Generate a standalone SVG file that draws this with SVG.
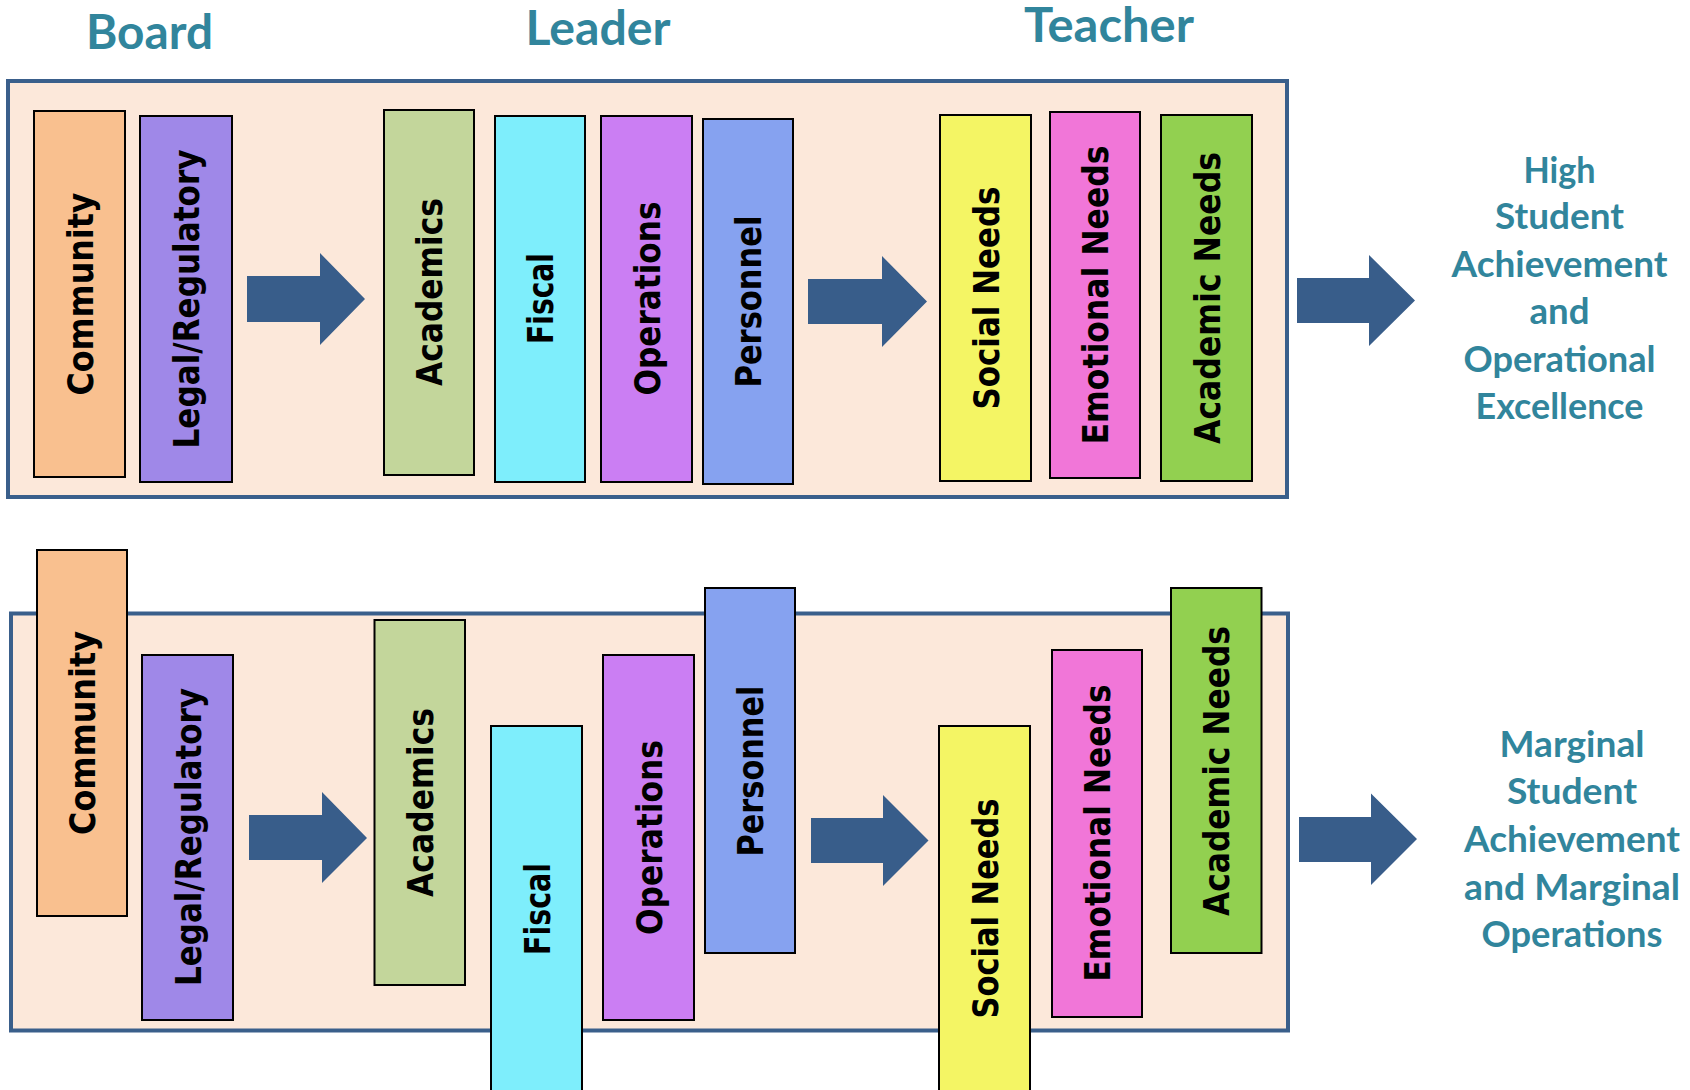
<svg xmlns="http://www.w3.org/2000/svg" width="1690" height="1090" viewBox="0 0 1690 1090">
<style>
.panel{fill:#FCE8DA;stroke:#3A5F8B;stroke-width:4}
.box{stroke:#000;stroke-width:2}
.lbl{font-family:"DejaVu Sans",Verdana,sans-serif;font-weight:bold;font-size:35px;fill:#000;text-anchor:middle}
.hdr{font-family:Lato,"Open Sans",sans-serif;font-weight:bold;font-size:47px;fill:#31859C;text-anchor:middle}
.out{font-family:Lato,"Open Sans",sans-serif;font-weight:bold;font-size:36px;fill:#31859C;text-anchor:middle}
.arr{fill:#385D8A}
.c1{fill:#F9C08F}.c2{fill:#9F88E8}.c3{fill:#C3D69B}.c4{fill:#7EEEFC}.c5{fill:#CB7EF3}.c6{fill:#86A2F0}.c7{fill:#F4F564}.c8{fill:#F176D8}.c9{fill:#92D050}
</style>
<rect width="1690" height="1090" fill="#fff"/>
<g id="headers">
<text class="hdr" x="149.5" y="48.5" textLength="127" lengthAdjust="spacingAndGlyphs">Board</text>
<text class="hdr" x="598" y="44.5" textLength="145" lengthAdjust="spacingAndGlyphs">Leader</text>
<text class="hdr" x="1109" y="42" textLength="170" lengthAdjust="spacingAndGlyphs">Teacher</text>
</g>
<g id="panel-top"><rect class="panel" x="8" y="81" width="1279" height="416"/></g>
<g id="panel-bottom"><rect class="panel" x="11" y="613.5" width="1277" height="417"/></g>
<g id="connectors">
<path class="arr" d="M247,276 H320 V253 L365,299 L320,345 V322 H247 Z"/>
<path class="arr" d="M808,279 H882 V256 L927,301.5 L882,347 V324 H808 Z"/>
<path class="arr" d="M1297,278 H1369 V255 L1415,300.5 L1369,346 V323 H1297 Z"/>
<path class="arr" d="M249,815 H322 V792 L367,838 L322,883 V860 H249 Z"/>
<path class="arr" d="M811,818 H883 V795 L928.5,840.5 L883,886 V863 H811 Z"/>
<path class="arr" d="M1299,817 H1371 V793.5 L1417,839 L1371,885 V862 H1299 Z"/>
</g>
<g id="top-community"><rect class="box c1" x="34" y="111" width="91" height="366"/><text class="lbl" transform="translate(79.5,294) rotate(-90)" y="13" textLength="203" lengthAdjust="spacingAndGlyphs">Community</text></g>
<g id="top-legal"><rect class="box c2" x="140" y="116" width="92" height="366"/><text class="lbl" transform="translate(186,299) rotate(-90)" y="13" textLength="299" lengthAdjust="spacingAndGlyphs">Legal/Regulatory</text></g>
<g id="top-academics"><rect class="box c3" x="384" y="110" width="90" height="365"/><text class="lbl" transform="translate(429,292) rotate(-90)" y="13" textLength="188" lengthAdjust="spacingAndGlyphs">Academics</text></g>
<g id="top-fiscal"><rect class="box c4" x="495" y="116" width="90" height="366"/><text class="lbl" transform="translate(540,298.5) rotate(-90)" y="13" textLength="91" lengthAdjust="spacingAndGlyphs">Fiscal</text></g>
<g id="top-operations"><rect class="box c5" x="601" y="116" width="91" height="366"/><text class="lbl" transform="translate(646.5,298.5) rotate(-90)" y="13" textLength="194" lengthAdjust="spacingAndGlyphs">Operations</text></g>
<g id="top-personnel"><rect class="box c6" x="703" y="119" width="90" height="365"/><text class="lbl" transform="translate(748,301.5) rotate(-90)" y="13" textLength="172" lengthAdjust="spacingAndGlyphs">Personnel</text></g>
<g id="top-social"><rect class="box c7" x="940" y="115" width="91" height="366"/><text class="lbl" transform="translate(985.5,298) rotate(-90)" y="13" textLength="223" lengthAdjust="spacingAndGlyphs">Social Needs</text></g>
<g id="top-emotional"><rect class="box c8" x="1050" y="112" width="90" height="366"/><text class="lbl" transform="translate(1095,295) rotate(-90)" y="13" textLength="299" lengthAdjust="spacingAndGlyphs">Emotional Needs</text></g>
<g id="top-academic-needs"><rect class="box c9" x="1161" y="115" width="91" height="366"/><text class="lbl" transform="translate(1206.5,298) rotate(-90)" y="13" textLength="292" lengthAdjust="spacingAndGlyphs">Academic Needs</text></g>
<g id="bottom-community"><rect class="box c1" x="37" y="550" width="90" height="366"/><text class="lbl" transform="translate(82,733) rotate(-90)" y="13" textLength="204" lengthAdjust="spacingAndGlyphs">Community</text></g>
<g id="bottom-legal"><rect class="box c2" x="142" y="655" width="91" height="365"/><text class="lbl" transform="translate(187.5,837) rotate(-90)" y="13" textLength="298" lengthAdjust="spacingAndGlyphs">Legal/Regulatory</text></g>
<g id="bottom-academics"><rect class="box c3" x="374.5" y="620" width="90.5" height="365"/><text class="lbl" transform="translate(419.7,802.5) rotate(-90)" y="13" textLength="189" lengthAdjust="spacingAndGlyphs">Academics</text></g>
<g id="bottom-fiscal"><rect class="box c4" x="491" y="726" width="91" height="366"/><text class="lbl" transform="translate(536.5,909) rotate(-90)" y="13" textLength="92" lengthAdjust="spacingAndGlyphs">Fiscal</text></g>
<g id="bottom-operations"><rect class="box c5" x="603" y="655" width="91" height="365"/><text class="lbl" transform="translate(648.5,837.5) rotate(-90)" y="13" textLength="195" lengthAdjust="spacingAndGlyphs">Operations</text></g>
<g id="bottom-personnel"><rect class="box c6" x="705" y="588" width="90" height="365"/><text class="lbl" transform="translate(750,771) rotate(-90)" y="13" textLength="171" lengthAdjust="spacingAndGlyphs">Personnel</text></g>
<g id="bottom-social"><rect class="box c7" x="939" y="726" width="91" height="366"/><text class="lbl" transform="translate(984.5,908.5) rotate(-90)" y="13" textLength="220" lengthAdjust="spacingAndGlyphs">Social Needs</text></g>
<g id="bottom-emotional"><rect class="box c8" x="1052" y="650" width="90" height="367"/><text class="lbl" transform="translate(1097,833) rotate(-90)" y="13" textLength="297" lengthAdjust="spacingAndGlyphs">Emotional Needs</text></g>
<g id="bottom-academic-needs"><rect class="box c9" x="1171" y="588" width="90.5" height="365"/><text class="lbl" transform="translate(1216.2,771) rotate(-90)" y="13" textLength="290" lengthAdjust="spacingAndGlyphs">Academic Needs</text></g>
<g id="outcome-top">
<text class="out" x="1559.5" y="182.5" textLength="72" lengthAdjust="spacingAndGlyphs">High</text>
<text class="out" x="1559.5" y="229.3" textLength="129" lengthAdjust="spacingAndGlyphs">Student</text>
<text class="out" x="1559.5" y="276.7" textLength="216" lengthAdjust="spacingAndGlyphs">Achievement</text>
<text class="out" x="1559.5" y="324" textLength="60" lengthAdjust="spacingAndGlyphs">and</text>
<text class="out" x="1559.5" y="371.7" textLength="192" lengthAdjust="spacingAndGlyphs">Operational</text>
<text class="out" x="1559.5" y="418.5" textLength="168" lengthAdjust="spacingAndGlyphs">Excellence</text>
</g>
<g id="outcome-bottom">
<text class="out" x="1572" y="757" textLength="145" lengthAdjust="spacingAndGlyphs">Marginal</text>
<text class="out" x="1572" y="804" textLength="130" lengthAdjust="spacingAndGlyphs">Student</text>
<text class="out" x="1572" y="851.6" textLength="216" lengthAdjust="spacingAndGlyphs">Achievement</text>
<text class="out" x="1572" y="899.5" textLength="216" lengthAdjust="spacingAndGlyphs">and Marginal</text>
<text class="out" x="1572" y="946.5" textLength="181" lengthAdjust="spacingAndGlyphs">Operations</text>
</g>
</svg>
